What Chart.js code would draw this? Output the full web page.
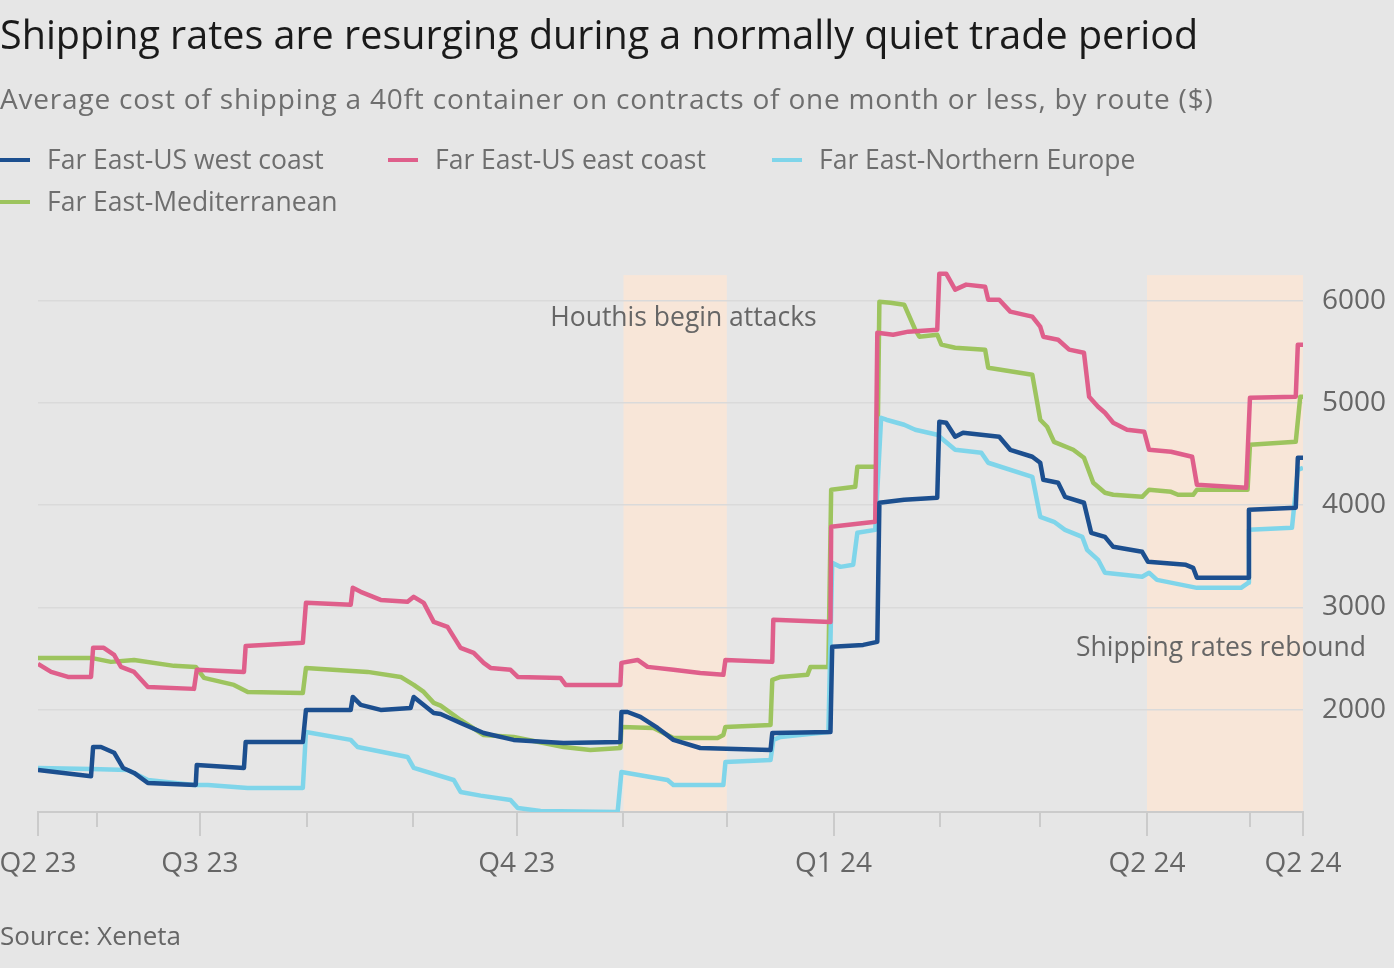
<!DOCTYPE html>
<html>
<head>
<meta charset="utf-8">
<script src="https://cdn.jsdelivr.net/npm/chart.js@4.4.1/dist/chart.umd.min.js"></script>
<style>
  body { margin:0; width:1394px; height:968px; overflow:hidden; position:relative;
         background:#e6e6e6; font-family:"Open Sans", sans-serif; }
  canvas { position:absolute; left:0; top:0; }
  .txt { position:absolute; white-space:nowrap; line-height:1; }
  #title { left:0; top:15px; font-size:39.5px; color:#1a1a1a; }
  #subtitle { left:0; top:84px; font-size:28px; letter-spacing:0.8px; color:#6e6e6e; }
  #source { left:0; top:922px; font-size:26px; color:#666; }
  .leg { position:absolute; white-space:nowrap; line-height:1; font-size:26.5px; color:#6e6e6e; }
  .sw { position:absolute; width:30px; height:4px; }
</style>
</head>
<body>
<canvas id="chart" width="1394" height="968"></canvas>
<div class="txt" id="title">Shipping rates are resurging during a normally quiet trade period</div>
<div class="txt" id="subtitle">Average cost of shipping a 40ft container on contracts of one month or less, by route ($)</div>
<div id="legend"></div>
<div class="txt" id="source">Source: Xeneta</div>
<script>
// x values are days counted from 1 April 2023
var routeNames = ["Far East-US west coast", "Far East-US east coast", "Far East-Northern Europe", "Far East-Mediterranean"];
var routeColors = ["#1c4f8f", "#df5f8b", "#7fd5ea", "#9dc45e"];

var westCoast = [[44,1411],[59.4,1350],[60,1636],[62.3,1636],[66.1,1580],[68.7,1431],[71.9,1382],[75.9,1284],[89.8,1264],[90.1,1460],[103.8,1431],[104.3,1685],[120.9,1685],[121.8,1998],[134.8,1998],[135.4,2125],[137.7,2047],[143.5,1998],[152.2,2018],[153.1,2125],[158.9,1969],[160.9,1959],[166.7,1871],[173.4,1773],[182.1,1705],[196.6,1675],[213.1,1685],[213.4,1978],[215.2,1978],[218.9,1930],[223.9,1822],[228.5,1705],[236.3,1626],[256.7,1607],[257.2,1773],[274.1,1783],[274.6,2615],[283.6,2634],[287.7,2664],[288.3,4024],[295.5,4053],[305.1,4073],[305.7,4816],[307.7,4806],[310.3,4669],[312.6,4708],[323.1,4669],[326.3,4542],[332.7,4474],[335,4415],[335.9,4249],[340.2,4219],[342.2,4082],[347.7,4024],[349.8,3730],[353.8,3691],[356.2,3593],[364.6,3544],[366.3,3446],[377.3,3417],[379.4,3388],[380.5,3290],[395.4,3290],[395.6,3955],[409.2,3975],[409.8,4464],[411.3,4464]];

var eastCoast = [[44,2449],[47.8,2370],[52.7,2321],[59.4,2321],[60,2605],[63.1,2605],[66.1,2536],[68.1,2419],[71.9,2370],[75.9,2223],[89.3,2204],[90.1,2390],[103.8,2370],[104.3,2624],[120.9,2654],[121.8,3045],[134.8,3026],[135.4,3192],[137.7,3153],[143.5,3074],[151.3,3055],[153.1,3104],[156,3045],[158.9,2859],[162.9,2810],[163.8,2761],[166.7,2605],[170.5,2556],[173.4,2458],[175.4,2409],[181.2,2390],[183.3,2321],[195.7,2311],[197.2,2243],[213.1,2243],[213.4,2458],[218.1,2487],[221,2419],[228.5,2390],[236.3,2360],[243,2341],[243.6,2487],[257.2,2468],[257.5,2879],[274.1,2859],[274.3,3789],[287.1,3838],[287.7,5687],[292.3,5667],[296.7,5697],[305.1,5716],[305.7,6264],[307.7,6264],[310.3,6108],[313.5,6157],[319,6137],[319.9,6010],[323.1,6010],[326.3,5893],[332.7,5844],[335,5746],[335.9,5648],[340.2,5618],[343.4,5521],[347.7,5491],[349.2,5061],[351.8,4963],[353.8,4904],[356.2,4806],[360.2,4738],[365.2,4718],[366.6,4542],[373,4523],[379.1,4474],[380.5,4200],[394.8,4170],[395.9,5051],[409.2,5061],[409.8,5570],[411.3,5570]];

var northEurope = [[44,1431],[59.4,1421],[70.1,1411],[75.9,1313],[89.3,1264],[93.3,1264],[104.9,1235],[120.9,1235],[121.8,1783],[134.8,1705],[136.8,1636],[151.3,1538],[153.1,1431],[164.7,1313],[166.7,1196],[172.5,1160],[181.2,1117],[183.3,1039],[189.9,1010],[212.3,1000],[213.4,1391],[226.8,1313],[228.5,1264],[243,1264],[243.6,1489],[256.7,1509],[257.5,1705],[259.6,1734],[273.5,1783],[274.6,3436],[277,3397],[280.7,3417],[281.9,3730],[287.1,3759],[288.8,4855],[290.3,4836],[295.5,4787],[298.7,4738],[305.1,4689],[310.3,4542],[317.9,4513],[319.9,4415],[332.7,4278],[335,3887],[339,3838],[342.2,3759],[347.2,3691],[348.6,3564],[351.8,3466],[353.8,3339],[364.6,3300],[366.6,3339],[368.9,3270],[380.5,3192],[393.3,3192],[395.4,3241],[395.6,3759],[408.1,3779],[409.8,4346],[411.3,4366]];

var mediterranean = [[44,2507],[59.4,2507],[65.2,2468],[71.9,2487],[83.5,2429],[89.8,2419],[92.2,2311],[100.9,2243],[104.9,2174],[120.9,2164],[121.8,2409],[139.7,2370],[149.3,2321],[153.1,2243],[156,2174],[158.9,2067],[160.9,2040],[166.7,1900],[173.4,1753],[182.1,1734],[196.6,1636],[204.4,1607],[213.1,1626],[213.4,1832],[222.7,1822],[228.5,1724],[241.3,1724],[243,1753],[243.6,1832],[256.7,1851],[257.2,2292],[259.6,2321],[267.4,2341],[268.3,2419],[273.5,2419],[274.3,4151],[281.3,4180],[281.9,4376],[287.7,4376],[288.3,5990],[291.5,5980],[295.5,5961],[298.7,5716],[299.9,5648],[305.1,5667],[306.3,5570],[310.3,5540],[319,5521],[319.9,5345],[332.7,5276],[335,4836],[337,4767],[339,4620],[344.6,4542],[347.7,4464],[350.4,4219],[353.8,4122],[356.2,4102],[364.6,4082],[366.6,4151],[373,4131],[375,4102],[379.4,4102],[380.5,4151],[395.2,4151],[395.9,4591],[409.2,4620],[410.5,5061],[411.3,5061]];

var tickDays = [44, 61, 91, 122, 153, 183, 214, 244, 275, 306, 335, 366, 396, 411.3];
var tickLabels = ["Q2 23", "", "Q3 23", "", "", "Q4 23", "", "", "Q1 24", "", "", "Q2 24", "", "Q2 24"];
var yTicks = [2000, 3000, 4000, 5000, 6000];
var shadedPeriods = [[214, 244], [366, 411.3]];
var shadeTop = 6250;
var notes = [
    { text: "Houthis begin attacks", x: 231.4, y: 5830 },
    { text: "Shipping rates rebound", x: 387.5, y: 2600 }
];

// legend, laid out like the original
var legendPos = [[0, 146], [388, 146], [772, 146], [0, 188]];
var legend = document.getElementById("legend");
routeNames.forEach(function (name, i) {
    var sw = document.createElement("div");
    sw.className = "sw";
    sw.style.left = legendPos[i][0] + "px";
    sw.style.top = (legendPos[i][1] + 12) + "px";
    sw.style.background = routeColors[i];
    legend.appendChild(sw);
    var t = document.createElement("div");
    t.className = "leg";
    t.style.left = (legendPos[i][0] + 47) + "px";
    t.style.top = legendPos[i][1] + "px";
    t.textContent = name;
    legend.appendChild(t);
});

var extras = {
    id: "extras",
    beforeDraw: function (chart) {
        var ctx = chart.ctx, x = chart.scales.x, y = chart.scales.y;
        ctx.save();
        ctx.fillStyle = "#f8e6d8";
        shadedPeriods.forEach(function (p) {
            var x0 = x.getPixelForValue(p[0]), x1 = x.getPixelForValue(p[1]);
            var y0 = y.getPixelForValue(shadeTop), y1 = y.getPixelForValue(y.min);
            ctx.fillRect(x0, y0, x1 - x0, y1 - y0);
        });
        ctx.restore();
    },
    afterDatasetsDraw: function (chart) {
        var ctx = chart.ctx, x = chart.scales.x, y = chart.scales.y;
        ctx.save();
        ctx.font = '26.5px "Open Sans"';
        ctx.fillStyle = "#666";
        ctx.textAlign = "center";
        ctx.textBaseline = "middle";
        notes.forEach(function (n) {
            ctx.fillText(n.text, x.getPixelForValue(n.x), y.getPixelForValue(n.y));
        });
        // tick marks under the axis
        ctx.strokeStyle = "#cbcbcb";
        ctx.lineWidth = 2;
        tickDays.forEach(function (d, i) {
            var px = Math.round(x.getPixelForValue(d));
            var len = tickLabels[i] ? 24 : 15;
            ctx.beginPath();
            ctx.moveTo(px, y.bottom);
            ctx.lineTo(px, y.bottom + len);
            ctx.stroke();
        });
        ctx.restore();
    }
};

function toPoints(arr) {
    return arr.map(function (p) { return { x: p[0], y: p[1] }; });
}

var series = [westCoast, eastCoast, northEurope, mediterranean];

new Chart(document.getElementById("chart"), {
    type: "line",
    data: {
        datasets: series.map(function (s, i) {
            return {
                label: routeNames[i],
                data: toPoints(s),
                borderColor: routeColors[i],
                backgroundColor: routeColors[i],
                borderWidth: 4.5,
                pointRadius: 0,
                tension: 0,
                borderJoinStyle: "round",
                fill: false
            };
        })
    },
    options: {
        responsive: false,
        devicePixelRatio: 1,
        animation: false,
        layout: { padding: { left: 38, right: 0, top: 270, bottom: 76 } },
        plugins: { legend: { display: false }, tooltip: { enabled: false } },
        scales: {
            x: {
                type: "linear",
                min: 44,
                max: 411.3,
                afterBuildTicks: function (scale) {
                    scale.ticks = tickDays.map(function (d) { return { value: d }; });
                },
                afterFit: function (scale) {
                    scale.height = 80;
                    scale.paddingLeft = 0;
                    scale.paddingRight = 0;
                },
                grid: { display: true, drawOnChartArea: false, drawTicks: false },
                border: { display: true, color: "#cbcbcb", width: 2 },
                ticks: {
                    autoSkip: false,
                    maxRotation: 0,
                    padding: 35,
                    color: "#666",
                    font: { family: "Open Sans", size: 28 },
                    callback: function (v, i) { return tickLabels[i]; }
                }
            },
            y: {
                position: "right",
                min: 1000,
                max: 6300,
                afterBuildTicks: function (scale) {
                    scale.ticks = yTicks.map(function (v) { return { value: v }; });
                },
                afterFit: function (scale) { scale.width = 91; },
                grid: { color: "#dadada", lineWidth: 1.5, drawTicks: false },
                border: { display: false },
                ticks: {
                    padding: 19,
                    color: "#666",
                    font: { family: "Open Sans", size: 28 },
                    callback: function (v) { return String(v); }
                }
            }
        }
    },
    plugins: [extras]
});
</script>
</body>
</html>
